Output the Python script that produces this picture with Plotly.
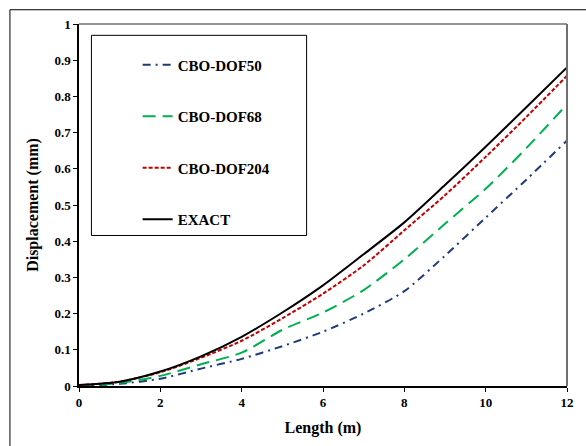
import plotly.graph_objects as go

length = [0, 1, 2, 3, 4, 5, 6, 7, 8, 9, 10, 11, 12]
dof50 = [0.0, 0.006, 0.020, 0.048, 0.075, 0.110, 0.150, 0.200, 0.262, 0.360, 0.465, 0.570, 0.678]
dof68 = [0.0, 0.008, 0.028, 0.060, 0.092, 0.155, 0.203, 0.265, 0.350, 0.448, 0.545, 0.657, 0.778]
dof204 = [0.002, 0.012, 0.038, 0.078, 0.125, 0.187, 0.255, 0.333, 0.430, 0.527, 0.633, 0.743, 0.857]
exact = [0.003, 0.012, 0.040, 0.082, 0.136, 0.203, 0.278, 0.364, 0.452, 0.555, 0.661, 0.770, 0.880]

names = ["CBO-DOF50", "CBO-DOF68", "CBO-DOF204", "EXACT"]
series = [dof50, dof68, dof204, exact]
colors = ["#1F3A7A", "#00B050", "#C00000", "#000000"]
dashes = ["8px,5px,2px,5px", "13px,7px", "4px,2px", "solid"]

x_ticks = [0, 2, 4, 6, 8, 10, 12]
y_ticks = [0, 0.1, 0.2, 0.3, 0.4, 0.5, 0.6, 0.7, 0.8, 0.9, 1]
y_labels = ["0", "0.1", "0.2", "0.3", "0.4", "0.5", "0.6", "0.7", "0.8", "0.9", "1"]

FONT = "Liberation Serif"

fig = go.Figure()
for i, (nm, ys, c, d) in enumerate(zip(names, series, colors, dashes)):
    fig.add_trace(go.Scatter(
        x=length, y=ys, name=nm, mode="lines",
        line=dict(color=c, width=2, dash=d, shape="spline", smoothing=0.7),
        legendgroup="g%d" % i,
    ))

W, H = 586, 446
L, R, T, B = 79, 16, 24, 54
pw, ph = W - L - R, H - T - B

def px_x(p):
    return (p - L) / pw

def px_y(p):
    return (H - B - p) / ph

fig.update_layout(
    width=W, height=H,
    margin=dict(l=L, r=R, t=T, b=B, pad=0),
    paper_bgcolor="white", plot_bgcolor="white",
    font=dict(family=FONT, color="black"),
    showlegend=True,
    legend=dict(
        x=px_x(138), y=px_y(49), xanchor="left", yanchor="top",
        bgcolor="rgba(0,0,0,0)", borderwidth=0,
        font=dict(family=FONT, size=15, color="black", weight="bold"),
        traceorder="grouped", tracegroupgap=29,
    ),
    xaxis=dict(
        range=[0, 12], tickvals=x_ticks, ticks="outside", ticklen=4,
        tickwidth=1, tickcolor="black", showline=True, linecolor="black",
        linewidth=1.5, showgrid=False, zeroline=False,
        tickfont=dict(family=FONT, size=13, weight="bold"),
        title=dict(text="<b>Length (m)</b>", font=dict(family=FONT, size=16), standoff=12),
    ),
    yaxis=dict(
        range=[0, 1], tickvals=y_ticks, ticktext=y_labels, ticks="outside",
        ticklen=4, tickwidth=1, tickcolor="black", showline=True,
        linecolor="black", linewidth=1.5, showgrid=False, zeroline=False,
        tickfont=dict(family=FONT, size=13, weight="bold"),
        title=dict(text="<b>Displacement (mm)</b>", font=dict(family=FONT, size=16), standoff=12),
    ),
    shapes=[
        dict(type="line", xref="paper", yref="paper", x0=0, x1=1, y0=1, y1=1,
             line=dict(color="#707070", width=1.5)),
        dict(type="line", xref="paper", yref="paper", x0=1, x1=1, y0=0, y1=1,
             line=dict(color="#707070", width=2)),
        dict(type="rect", xref="paper", yref="paper",
             x0=px_x(91.5), x1=px_x(308), y0=px_y(239), y1=px_y(35.5),
             line=dict(color="black", width=1), fillcolor="rgba(0,0,0,0)"),
        dict(type="rect", xref="paper", yref="paper",
             x0=px_x(9.5), x1=px_x(600), y0=px_y(470), y1=px_y(9.5),
             line=dict(color="black", width=1), fillcolor="rgba(0,0,0,0)"),
    ],
)

fig.write_html("out.html")
